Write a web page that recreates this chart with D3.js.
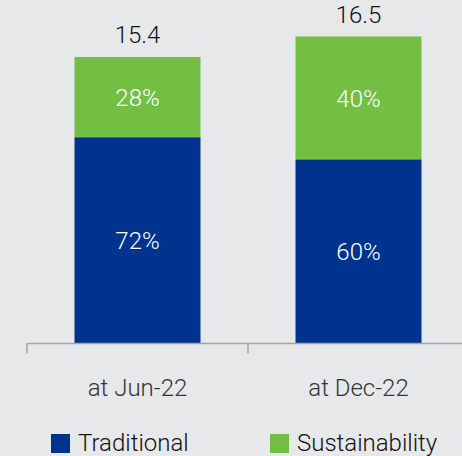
<!DOCTYPE html>
<html>
<head>
<meta charset="utf-8">
<script src="https://cdn.jsdelivr.net/npm/d3@7"></script>
<style>
  html, body { margin: 0; padding: 0; background: #e7e8ea; }
  svg { display: block; }
  text { font-family: Roboto, "Open Sans", sans-serif; font-weight: 300; }
</style>
</head>
<body>
<svg id="chart" width="462" height="456"></svg>
<script>
// Portfolio split by period
const periods = ["at Jun-22", "at Dec-22"];
const totals = [15.4, 16.5];
const traditionalPct = [72, 60];
const sustainabilityPct = [28, 40];
const seriesNames = ["Traditional", "Sustainability"];
const seriesColors = ["#00338d", "#72bf44"];

const width = 462, height = 456;
const baseline = 343.5;

const svg = d3.select("#chart");

const x = d3.scaleBand().domain(periods).range([27, 469]).paddingInner(0).paddingOuter(0);
const barW = x.bandwidth() * 0.57;
const y = d3.scaleLinear().domain([0, 16.5]).range([baseline, baseline - 307]);

// stacked rows: traditional at the bottom, sustainability on top
const rows = periods.map((p, i) => ({
  period: p,
  Traditional: totals[i] * traditionalPct[i] / 100,
  Sustainability: totals[i] * sustainabilityPct[i] / 100,
  pct: { Traditional: traditionalPct[i], Sustainability: sustainabilityPct[i] },
  total: totals[i]
}));
const stack = d3.stack().keys(seriesNames)(rows);

const color = d3.scaleOrdinal().domain(seriesNames).range(seriesColors);

const layers = svg.selectAll("g.layer").data(stack).join("g")
  .attr("class", "layer")
  .attr("fill", d => color(d.key));

layers.selectAll("rect").data(d => d.map(s => ({ s, key: d.key }))).join("rect")
  .attr("x", d => x(d.s.data.period) + (x.bandwidth() - barW) / 2)
  .attr("width", barW)
  .attr("y", d => y(d.s[1]))
  .attr("height", d => y(d.s[0]) - y(d.s[1]));

// percentage labels inside each segment
layers.selectAll("text").data(d => d.map(s => ({ s, key: d.key }))).join("text")
  .attr("x", d => x(d.s.data.period) + x.bandwidth() / 2)
  .attr("y", d => (y(d.s[0]) + y(d.s[1])) / 2)
  .attr("dy", "0.36em")
  .attr("text-anchor", "middle")
  .attr("fill", "#ffffff")
  .attr("font-size", 24)
  .text(d => d.s.data.pct[d.key] + "%");

// totals above the bars
svg.selectAll("text.total").data(rows).join("text")
  .attr("class", "total")
  .attr("x", d => x(d.period) + x.bandwidth() / 2)
  .attr("y", d => y(d.total) - 14)
  .attr("text-anchor", "middle")
  .attr("fill", "#111111")
  .attr("font-size", 24)
  .text(d => d3.format(".1f")(d.total));

// category axis with ticks on the band edges
const axis = svg.append("g");
axis.append("line")
  .attr("x1", 27).attr("x2", width)
  .attr("y1", baseline).attr("y2", baseline)
  .attr("stroke", "#a3a5a8").attr("stroke-width", 1.5);
axis.selectAll("line.tick").data(periods).join("line")
  .attr("class", "tick")
  .attr("x1", d => x(d)).attr("x2", d => x(d))
  .attr("y1", baseline).attr("y2", baseline + 10)
  .attr("stroke", "#a3a5a8").attr("stroke-width", 1.5);
axis.selectAll("text").data(periods).join("text")
  .attr("x", d => x(d) + x.bandwidth() / 2)
  .attr("y", 396)
  .attr("text-anchor", "middle")
  .attr("fill", "#333333")
  .attr("font-size", 24)
  .text(d => d);

// legend
const legendX = [51, 270];
const legend = svg.selectAll("g.legend").data(seriesNames).join("g")
  .attr("class", "legend")
  .attr("transform", (d, i) => `translate(${legendX[i]},434)`);
legend.append("rect")
  .attr("width", 19).attr("height", 19)
  .attr("fill", d => color(d));
legend.append("text")
  .attr("x", 27).attr("y", 16.5)
  .attr("fill", "#111111")
  .attr("font-size", 24)
  .text(d => d);
</script>
</body>
</html>
